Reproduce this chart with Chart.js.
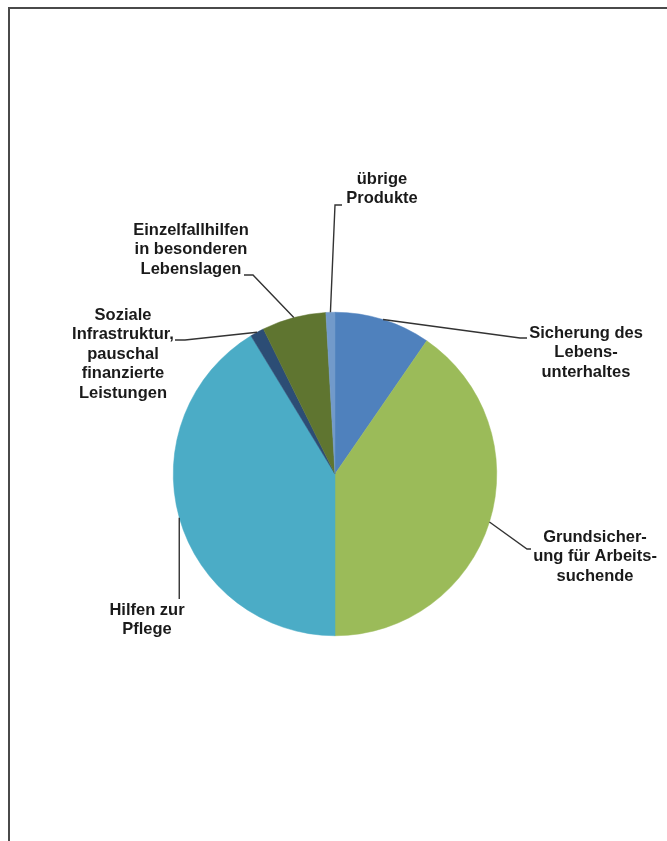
<!DOCTYPE html>
<html lang="de">
<head>
<meta charset="utf-8">
<title>Produkte</title>
<script src="https://cdn.jsdelivr.net/npm/chart.js@4.4.1/dist/chart.umd.min.js"></script>
<style>
  html, body { margin: 0; padding: 0; background: #fff; }
  body { width: 667px; height: 841px; position: relative; overflow: hidden; }
  #rahmen {
    position: absolute; left: 8px; top: 7px; width: 720px; height: 900px;
    border-left: 2px solid #4a4a4a; border-top: 2px solid #4a4a4a;
  }
  #wrap { position: absolute; left: 0; top: 0; width: 667px; height: 841px; }
</style>
</head>
<body>
<div id="rahmen"></div>
<div id="wrap"><canvas id="grafica"></canvas></div>
<script>
// Daten (Anteile in %)
const kategorien = [
  'Sicherung des Lebensunterhaltes',
  'Grundsicherung für Arbeitsuchende',
  'Hilfen zur Pflege',
  'Soziale Infrastruktur, pauschal finanzierte Leistungen',
  'Einzelfallhilfen in besonderen Lebenslagen',
  'übrige Produkte'
];
const anteile = [9.6, 40.4, 41.3, 1.4, 6.4, 0.9];
const beschriftungen = [
  ['Sicherung des', 'Lebens-', 'unterhaltes'],
  ['Grundsicher-', 'ung für Arbeits-', 'suchende'],
  ['Hilfen zur', 'Pflege'],
  ['Soziale', 'Infrastruktur,', 'pauschal', 'finanzierte', 'Leistungen'],
  ['Einzelfallhilfen', 'in besonderen', 'Lebenslagen'],
  ['übrige', 'Produkte']
];
const farben = ['#4F81BD', '#9BBB59', '#4BACC6', '#2C4D75', '#5F7530', '#729ACA'];

// wo die Texte stehen (Mitte x, erste Zeile y) und Knick der Führungslinie
const textLage = [
  { x: 586, y: 333, knick: [520, 338], ende: [527, 338] },
  { x: 595, y: 537, knick: [527, 549], ende: [531, 549] },
  { x: 147, y: 610, knick: null, ende: [179, 599] },
  { x: 123, y: 315, knick: [185, 340], ende: [175, 340] },
  { x: 191, y: 230, knick: [253, 275], ende: [244, 275] },
  { x: 382, y: 179, knick: [335, 205], ende: [342, 205] }
];

const beschriftungPlugin = {
  id: 'beschriftung',
  afterDraw(chart) {
    const ctx = chart.ctx;
    const bogen = chart.getDatasetMeta(0).data;
    ctx.save();
    ctx.strokeStyle = '#333';
    ctx.lineWidth = 1.4;
    bogen.forEach((b, i) => {
      const mitte = (b.startAngle + b.endAngle) / 2;
      const ax = b.x + Math.cos(mitte) * b.outerRadius;
      const ay = b.y + Math.sin(mitte) * b.outerRadius;
      const lage = textLage[i];
      ctx.beginPath();
      ctx.moveTo(ax, ay);
      if (lage.knick) ctx.lineTo(lage.knick[0], lage.knick[1]);
      else ctx.lineTo(ax, lage.ende[1]);
      if (lage.knick) ctx.lineTo(lage.ende[0], lage.ende[1]);
      ctx.stroke();
    });
    ctx.fillStyle = '#1a1a1a';
    ctx.font = 'bold 16.5px "Liberation Sans", Arial, sans-serif';
    ctx.textAlign = 'center';
    ctx.textBaseline = 'middle';
    beschriftungen.forEach((zeilen, i) => {
      zeilen.forEach((z, k) => {
        ctx.fillText(z, textLage[i].x, textLage[i].y + k * 19.6);
      });
    });
    ctx.restore();
  }
};

const grafica = new Chart(document.getElementById('grafica'), {
  type: 'pie',
  data: {
    labels: kategorien,
    datasets: [{
      data: anteile,
      backgroundColor: farben,
      borderColor: farben,
      borderWidth: 0.5
    }]
  },
  options: {
    responsive: true,
    maintainAspectRatio: false,
    animation: false,
    layout: { padding: { left: 173, right: 170, top: 312, bottom: 205 } },
    plugins: {
      legend: { display: false },
      tooltip: { enabled: false }
    }
  },
  plugins: [beschriftungPlugin]
});
</script>
</body>
</html>
